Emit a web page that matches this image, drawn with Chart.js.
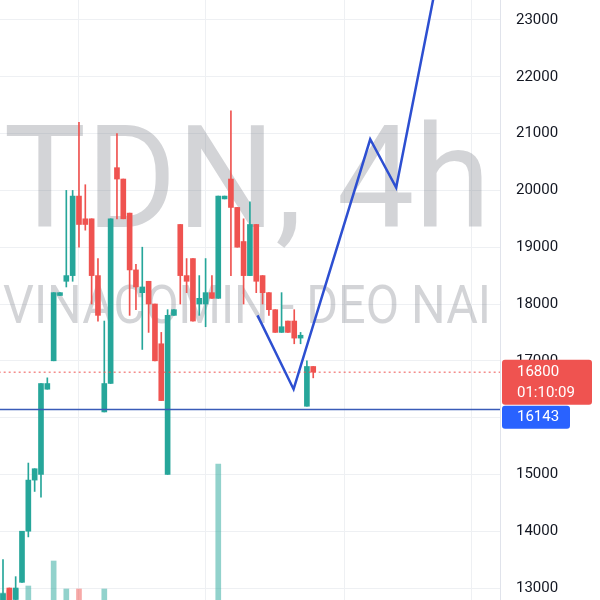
<!DOCTYPE html>
<html>
<head>
<meta charset="utf-8">
<script src="https://cdn.jsdelivr.net/npm/chart.js@4.4.1/dist/chart.umd.min.js"></script>
<style>
  html, body { margin: 0; padding: 0; background: #fff; }
  canvas { display: block; }
</style>
</head>
<body>
<canvas id="chart" width="600" height="600"></canvas>
<script>
// TDN 4h candles (VND)
const opens  = [12600, 13000, 12800, 13100, 14000, 14900, 15000, 16500, 17000, 18150,
                18400, 18500, 19900, 19500, 19500, 18500, 16100, 16600, 20400, 20200,
                19600, 18600, 18200, 18400, 18000, 17300, 15000, 17800, 19400, 18500,
                18800, 18000, 18000, 18200, 18100, 19850, 20200, 19700, 19100, 18500,
                19400, 18500, 18200, 17900, 17500, 17700, 17700, 17400, 16200, 16900];
const highs  = [13500, 13000, 13200, 14000, 15200, 15100, 16600, 16700, 18200, 18200,
                20000, 20000, 21200, 20100, 19500, 18800, 17700, 19500, 21000, 20200,
                19600, 18700, 19000, 18400, 18000, 17500, 17900, 17900, 19400, 18800,
                18800, 18500, 18800, 18500, 19900, 19900, 21400, 19700, 19500, 19800,
                19400, 18500, 18200, 17900, 18200, 17700, 17900, 17500, 17000, 16900];
const lows   = [12500, 12600, 12700, 13100, 13900, 14700, 14600, 16500, 17000, 18150,
                18300, 18400, 19000, 19300, 18000, 17700, 16100, 16600, 19500, 19500,
                17800, 17900, 17200, 17500, 17000, 16300, 15000, 17800, 18000, 18200,
                17700, 17800, 17600, 18100, 18100, 19850, 18500, 19000, 18000, 18500,
                18200, 18000, 17800, 17500, 17500, 17500, 17300, 17300, 16200, 16700];
const closes = [12900, 12700, 13000, 14000, 14900, 15100, 16600, 16600, 18200, 18200,
                18500, 19900, 19400, 19400, 18500, 17800, 16600, 19500, 20200, 19500,
                18600, 18300, 18300, 18000, 17000, 16300, 17800, 17900, 18500, 18400,
                17700, 18100, 18200, 18100, 19900, 19900, 19700, 19000, 18500, 19400,
                18400, 18200, 17900, 17500, 17600, 17500, 17400, 17450, 16900, 16800];
// volume, thousand shares (only the big ones rise above the crop edge)
const volume = [370, 400, 410, 180, 440, 220, 260, 150, 690, 170,
                410, 240, 410, 200, 230, 190, 410, 280, 210, 170,
                190, 150, 230, 160, 200, 250, 280, 140, 230, 160,
                210, 180, 200, 150, 1660, 120, 270, 200, 220, 190,
                210, 160, 170, 180, 150, 130, 170, 120, 260, 140];

// user drawing (bar index, price)
const drawX = [40.2, 45.9, 58.0, 62.1, 68.1];
const drawY = [17800, 16500, 20900, 20050, 23450];

const priceTicks = [13000, 14000, 15000, 16000, 17000, 18000, 19000, 20000, 21000, 22000, 23000];
const timeGrid = [12, 32, 54, 74];
const supportLevel = 16143;
const lastPrice = 16800;
const countdown = '01:10:09';

const X_MIN = -0.474, X_MAX = 78.5;
const P_MIN = 12789, P_MAX = 23352;

const UP = '#26a69a', DOWN = '#ef5350';
const UP_VOL = 'rgba(38,166,154,0.5)', DOWN_VOL = 'rgba(239,83,80,0.5)';

const isUp = opens.map((o, i) => closes[i] >= o);
const candleColors = isUp.map(u => u ? UP : DOWN);

const watermark = {
    id: 'watermark',
    beforeDatasetsDraw(chart) {
        const { ctx, chartArea: a } = chart;
        const cx = (a.left + a.right) / 2 - 3;
        ctx.save();
        ctx.beginPath();
        ctx.rect(a.left, a.top, a.right - a.left, a.bottom - a.top);
        ctx.clip();
        ctx.fillStyle = 'rgba(120,123,134,0.33)';
        ctx.textAlign = 'center';
        ctx.textBaseline = 'alphabetic';
        const lines = [['TDN, 4h', 143, 227, 487], ['VINACOMIN - DEO NAI', 53, 323, 488]];
        lines.forEach(([txt, size, base, w]) => {
            ctx.font = `${size}px Roboto, "Noto Sans", sans-serif`;
            const k = w / ctx.measureText(txt).width;
            ctx.save();
            ctx.translate(cx, base);
            ctx.scale(k, 1);
            ctx.fillText(txt, 0, 0);
            ctx.restore();
        });
        ctx.restore();
    }
};

const priceTags = {
    id: 'priceTags',
    afterDraw(chart) {
        const { ctx } = chart;
        const y = chart.scales.y;
        const left = y.left + 2;
        const box = (x, top, w, h, color) => {
            ctx.fillStyle = color;
            ctx.beginPath();
            if (ctx.roundRect) ctx.roundRect(x, top, w, h, 3); else ctx.rect(x, top, w, h);
            ctx.fill();
        };
        ctx.save();
        ctx.font = '15px Roboto, "Noto Sans", sans-serif';
        ctx.textBaseline = 'middle';
        ctx.textAlign = 'left';

        const py = y.getPixelForValue(lastPrice);
        const redTop = py - 12.5;
        box(left, redTop, 90, 45, DOWN);
        ctx.fillStyle = '#fff';
        ctx.fillText(String(lastPrice), left + 15, py);
        ctx.fillText(countdown, left + 15, py + 21.5);

        const sy = y.getPixelForValue(supportLevel);
        const blueTop = Math.max(redTop + 46, sy - 11.5);
        box(left, blueTop, 68, 23, '#2962ff');
        ctx.fillStyle = '#fff';
        ctx.fillText(String(supportLevel), left + 15, blueTop + 11.5);
        ctx.restore();
    }
};

const idx = opens.map((_, i) => i);

new Chart(document.getElementById('chart'), {
    data: {
        datasets: [
            {
                type: 'line', label: 'drawing', order: 1,
                data: drawX.map((x, i) => ({ x, y: drawY[i] })),
                borderColor: '#2d4fd1', borderWidth: 2.5, pointRadius: 0, tension: 0
            },
            {
                type: 'line', label: 'support', order: 2,
                data: [{ x: X_MIN - 1, y: supportLevel }, { x: X_MAX + 1, y: supportLevel }],
                borderColor: '#3a5bb8', borderWidth: 1.5, pointRadius: 0
            },
            {
                type: 'line', label: 'last', order: 2,
                data: [{ x: X_MIN - 1, y: lastPrice }, { x: X_MAX + 1, y: lastPrice }],
                borderColor: DOWN, borderWidth: 1, borderDash: [2, 3], pointRadius: 0
            },
            {
                type: 'bar', label: 'body', order: 3, grouped: false,
                data: idx.map(i => ({ x: i, y: [opens[i], closes[i]] })),
                backgroundColor: candleColors, barThickness: 5, minBarLength: 1.5
            },
            {
                type: 'bar', label: 'wick', order: 4, grouped: false,
                data: idx.map(i => ({ x: i, y: [lows[i], highs[i]] })),
                backgroundColor: candleColors, barThickness: 1
            },
            {
                type: 'bar', label: 'volume', order: 5, grouped: false, yAxisID: 'yv',
                data: idx.map(i => ({ x: i, y: volume[i] })),
                backgroundColor: isUp.map(u => u ? UP_VOL : DOWN_VOL), barThickness: 5
            }
        ]
    },
    options: {
        responsive: false,
        animation: false,
        layout: { padding: 0 },
        plugins: { legend: { display: false }, tooltip: { enabled: false } },
        scales: {
            x: {
                type: 'linear', min: X_MIN, max: X_MAX, offset: false,
                grid: { color: '#eef0f3', drawTicks: false, offset: false },
                border: { display: false },
                ticks: { display: false },
                afterBuildTicks: s => { s.ticks = timeGrid.map(v => ({ value: v })); },
                afterFit: s => { s.height = 0; s.paddingLeft = 0; s.paddingRight = 0; }
            },
            y: {
                position: 'right', min: P_MIN, max: P_MAX,
                grid: { color: '#eef0f3', drawTicks: false },
                border: { color: '#e0e3eb' },
                ticks: {
                    padding: 16, color: '#131722', font: { family: 'Roboto', size: 15 },
                    callback: v => String(v)
                },
                afterBuildTicks: s => { s.ticks = priceTicks.map(v => ({ value: v })); },
                afterFit: s => { s.width = 100; s.paddingTop = 0; s.paddingBottom = 0; }
            },
            yv: { display: false, min: 300, max: 6300 }
        }
    },
    plugins: [watermark, priceTags]
});
</script>
</body>
</html>
